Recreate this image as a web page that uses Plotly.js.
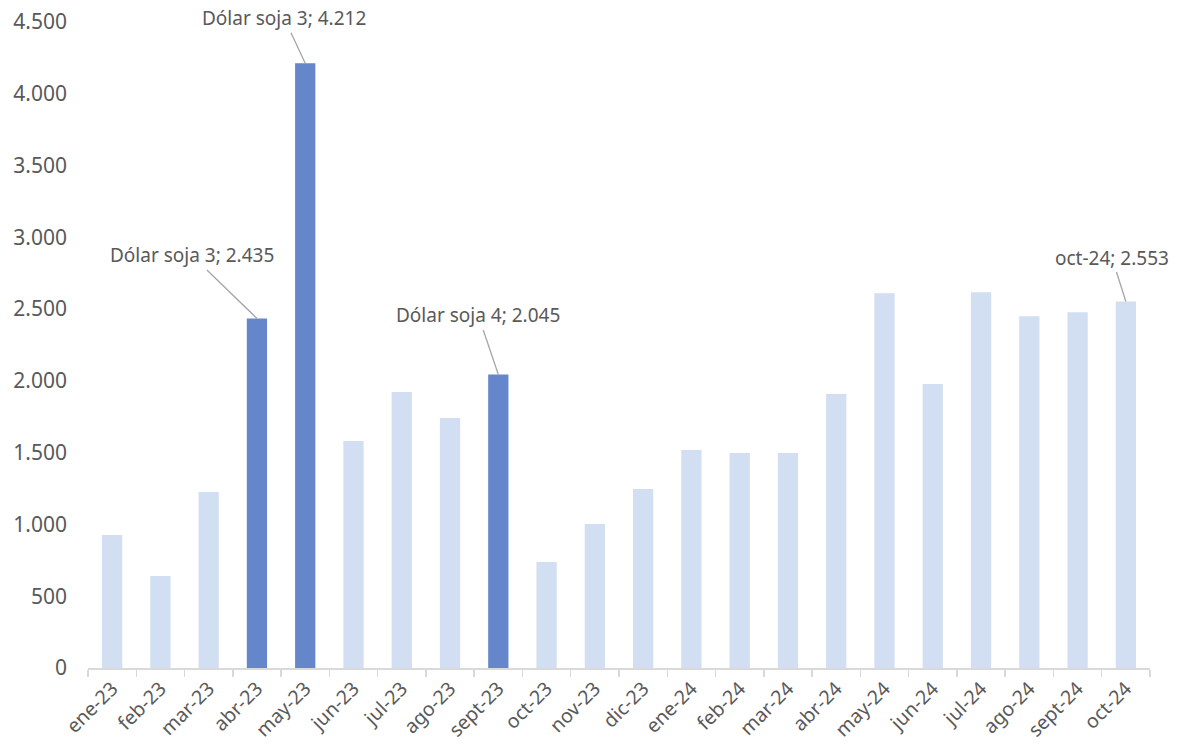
<!DOCTYPE html>
<html>
<head>
<meta charset="utf-8">
<script src="https://cdn.plot.ly/plotly-3.0.1.min.js"></script>
<style>html,body{margin:0;padding:0;background:#fff;}#chart{width:1186px;height:751px;}</style>
</head>
<body>
<div id="chart"></div>
<script>
const categories = ["ene-23","feb-23","mar-23","abr-23","may-23","jun-23","jul-23","ago-23","sept-23","oct-23","nov-23","dic-23","ene-24","feb-24","mar-24","abr-24","may-24","jun-24","jul-24","ago-24","sept-24","oct-24"];
const values = [926, 641, 1226, 2435, 4212, 1581, 1922, 1741, 2045, 738, 1003, 1247, 1518, 1497, 1497, 1908, 2611, 1978, 2618, 2451, 2479, 2553];
const highlighted = ["abr-23","may-23","sept-23"];
const labelCats = ["abr-23","may-23","sept-23","oct-24"];
const labelNames = ["Dólar soja 3","Dólar soja 3","Dólar soja 4","oct-24"];
const labelOffsets = [[-65,-63],[-21,-45],[-20,-59],[-14,-44]];

const DARK = "#6586CB", LIGHT = "#D2DEF1";
function fmt(v){ return String(v).replace(/\B(?=(\d{3})+(?!\d))/g, "."); }

const colors = categories.map(c => highlighted.includes(c) ? DARK : LIGHT);
const annotations = labelCats.map((c, i) => ({
  x: c, y: values[categories.indexOf(c)], xref: "x", yref: "y",
  text: labelNames[i] + "; " + fmt(values[categories.indexOf(c)]),
  showarrow: true, arrowhead: 0, arrowwidth: 1.3, arrowcolor: "#A6A6A6",
  ax: labelOffsets[i][0], ay: labelOffsets[i][1], standoff: 0,
  font: {family: "Noto Sans", size: 19, color: "#595959"}
}));

const trace = {type: "bar", x: categories, y: values, marker: {color: colors}, hoverinfo: "skip"};
const layout = {
  width: 1186, height: 751,
  margin: {l: 88, r: 36, t: 22, b: 83},
  paper_bgcolor: "#fff", plot_bgcolor: "#fff",
  separators: ",.",
  bargap: 0.58,
  showlegend: false,
  font: {family: "Noto Sans", color: "#595959"},
  xaxis: {
    type: "category", range: [-0.5, categories.length - 0.5], tickangle: -45, tickfont: {size: 19.5, color: "#595959"},
    showline: true, linecolor: "#D9D9D9", linewidth: 1.5,
    ticks: "outside", tickson: "boundaries", ticklen: 7, tickcolor: "#D9D9D9", tickwidth: 1.5,
    showgrid: false, automargin: false
  },
  yaxis: {
    range: [0, 4500], dtick: 500, tickformat: ",", tickfont: {size: 21, color: "#595959"},
    showgrid: false, zeroline: false, showline: false, ticks: "", ticklabelstandoff: 20, automargin: false
  },
  annotations: annotations
};
Plotly.newPlot("chart", [trace], layout, {displayModeBar: false, staticPlot: true});
</script>
</body>
</html>
